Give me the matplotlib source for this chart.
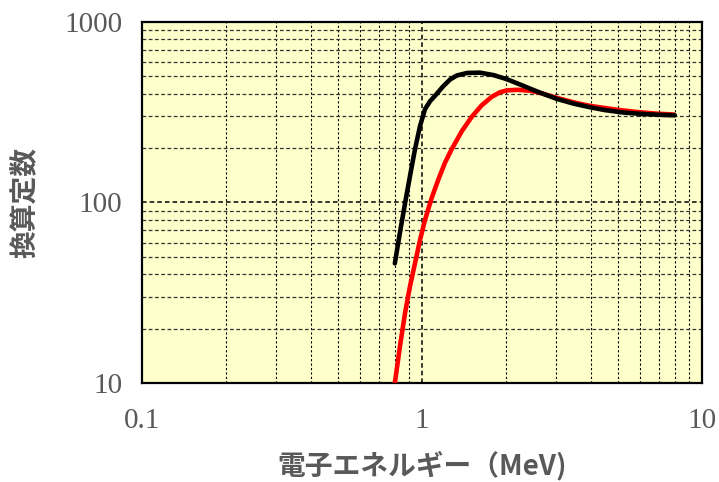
import matplotlib
matplotlib.use('Agg')
import matplotlib.pyplot as plt
from matplotlib.ticker import LogLocator, FixedFormatter, FixedLocator, NullFormatter

# electron energy (MeV) and conversion constant
energy_black = [0.80, 0.834, 0.870, 0.906, 0.944, 0.984, 1.025, 1.07, 1.113,
                1.19, 1.26, 1.33, 1.45, 1.61, 1.80, 2.01, 2.30, 2.64, 3.03,
                3.50, 3.98, 4.50, 5.24, 6.00, 7.00, 8.00]
const_black = [46, 68, 99, 140, 197, 265, 329, 365, 390,
               440, 480, 505, 522, 524, 508, 482, 443, 406, 375,
               352, 337, 325, 315, 310, 306, 304]

energy_red = [0.80, 0.834, 0.870, 0.906, 0.944, 0.984, 1.025, 1.083, 1.144,
              1.208, 1.276, 1.387, 1.505, 1.633, 1.775, 1.90, 2.01, 2.20,
              2.43, 2.64, 3.03, 3.50, 3.98, 5.00, 6.00, 7.00, 8.00]
const_red = [10, 15.9, 24.4, 34.3, 46, 62, 80, 106, 134,
             166, 197, 248, 298, 345, 385, 408, 418, 421,
             416, 405, 380, 358, 343, 326, 316, 310, 307]

x_ticks = [0.1, 1, 10]
x_labels = ['0.1', '1', '10']
y_ticks = [10, 100, 1000]
y_labels = ['10', '100', '1000']

fig = plt.figure(figsize=(7.19, 4.82), dpi=100)
ax = fig.add_axes([0.1975, 0.2054, 0.7788, 0.749])
ax.set_facecolor('#ffffcc')

ax.plot(energy_black, const_black, color='black', lw=3.3, solid_capstyle='round',
        solid_joinstyle='round', zorder=4)
ax.plot(energy_red, const_red, color='#ff0000', lw=3.3, solid_capstyle='butt',
        solid_joinstyle='round', zorder=3)

ax.set_xscale('log')
ax.set_yscale('log')
ax.set_xlim(0.1, 10)
ax.set_ylim(10, 1000)

ax.xaxis.set_major_locator(FixedLocator(x_ticks))
ax.xaxis.set_major_formatter(FixedFormatter(x_labels))
ax.yaxis.set_major_locator(FixedLocator(y_ticks))
ax.yaxis.set_major_formatter(FixedFormatter(y_labels))
ax.xaxis.set_minor_locator(LogLocator(base=10, subs=range(2, 10)))
ax.yaxis.set_minor_locator(LogLocator(base=10, subs=range(2, 10)))
ax.xaxis.set_minor_formatter(NullFormatter())
ax.yaxis.set_minor_formatter(NullFormatter())

ax.grid(which='major', color='black', ls=(0, (3, 2)), lw=1.1)
ax.grid(which='minor', axis='x', color='black', ls=(0, (2, 2)), lw=0.8)
ax.grid(which='minor', axis='y', color='#333333', ls=(0, (3, 2)), lw=0.9)
ax.set_axisbelow(True)

for sp in ax.spines.values():
    sp.set_linewidth(1.6)
    sp.set_color('black')

ax.tick_params(which='both', length=0)
ax.tick_params(axis='x', pad=18)
ax.tick_params(axis='y', pad=14)
for lab in ax.get_xticklabels() + ax.get_yticklabels():
    lab.set_fontfamily('Liberation Serif')
    lab.set_fontsize(21)
    lab.set_color('#595959')

ax.set_xlabel('電子エネルギー（MeV)', fontfamily=['Noto Sans CJK JP', 'DejaVu Sans'],
              fontsize=20, fontweight='bold', color='#595959', labelpad=12)
ax.set_ylabel('換算定数', fontfamily=['Noto Sans CJK JP', 'DejaVu Sans'],
              fontsize=20, fontweight='bold', color='#595959', labelpad=18)

fig.savefig('out.png', dpi=100)
